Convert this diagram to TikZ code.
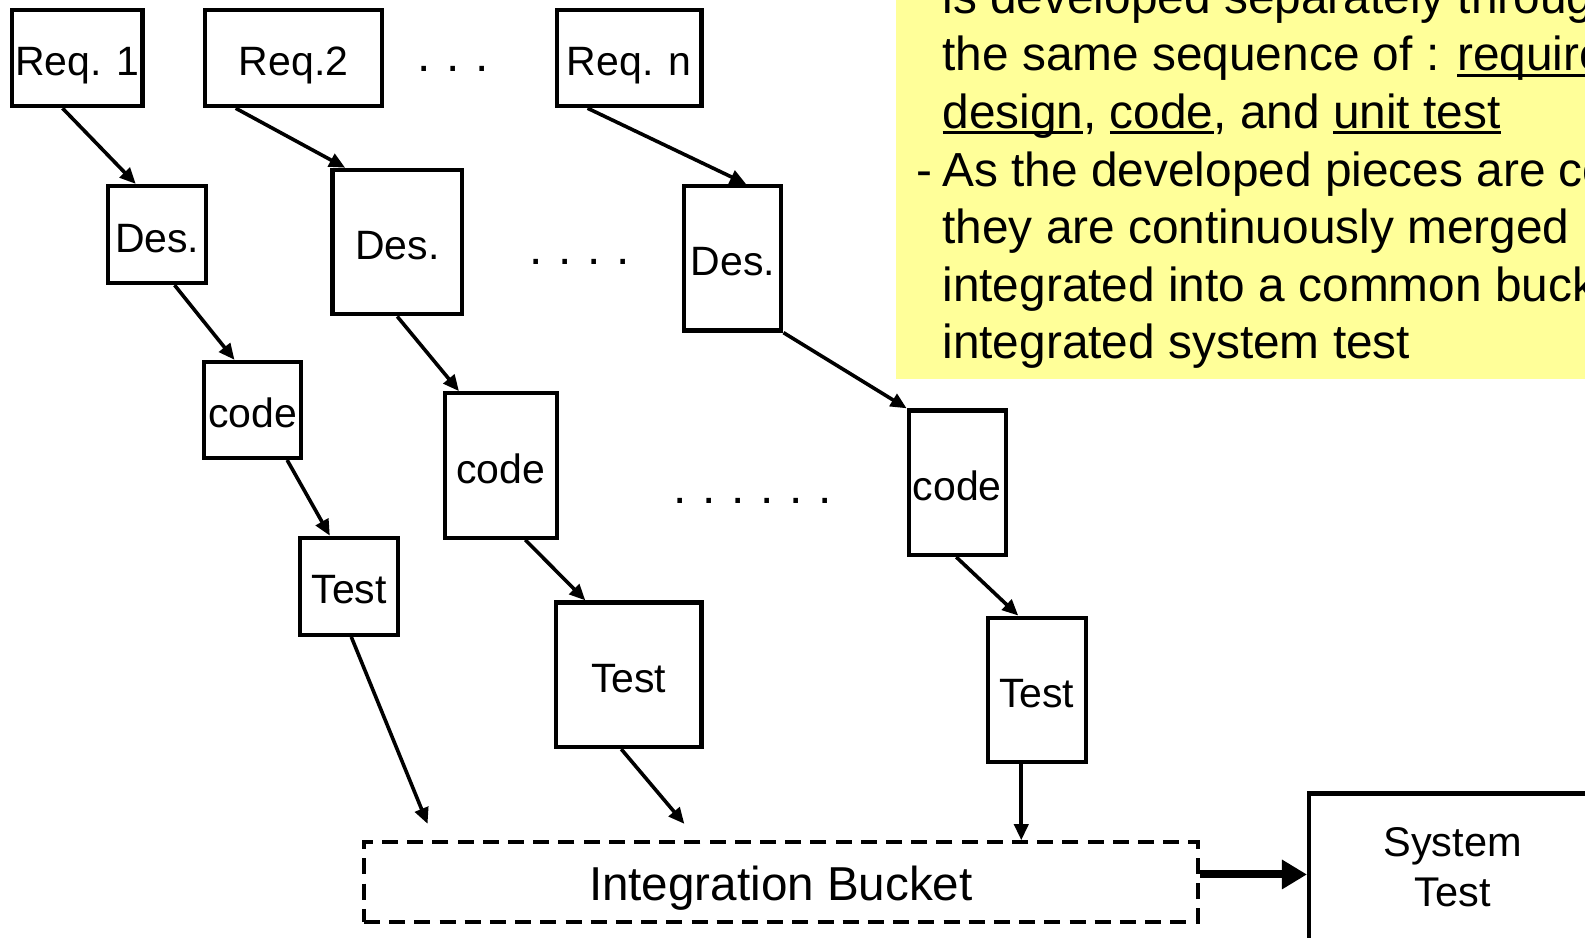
\documentclass[tikz,border=0pt]{standalone}
\usepackage{fontspec}
\setmainfont{Liberation Sans}
\usetikzlibrary{arrows.meta,calc}
\definecolor{note}{RGB}{255,255,153}
\newsavebox{\ulbox}
\newcommand{\ulx}[1]{\sbox{\ulbox}{#1}\rlap{\rule[-2.9pt]{\wd\ulbox}{1.5pt}}\usebox{\ulbox}}
\newcommand{\dd}{\makebox[14.5pt]{.}}
\begin{document}
\begin{tikzpicture}[x=0.5054pt,y=-0.5054pt,
  box/.style={draw,line width=2.1pt,inner sep=0pt,text height=17.6pt,text depth=0pt,font=\fontsize{20.5}{24}\selectfont},
  sz/.style 2 args={minimum width=#1*0.5054pt,minimum height=#2*0.5054pt},
  bucket/.style={draw,line width=1.8pt,dash pattern=on 8pt off 4.6pt,inner sep=0pt,text height=19pt,text depth=0pt,font=\fontsize{23.8}{28}\selectfont},
  arr/.style={line width=1.8pt,-{Triangle[length=8pt,width=7pt]}},
  bigarr/.style={line width=4pt,-{Triangle[length=12.5pt,width=14pt]}},
  notetext/.style={anchor=base west,inner sep=0pt,font=\fontsize{23.9}{28}\selectfont},
  dots/.style={inner sep=0pt,font=\fontsize{24}{28}\selectfont}]
\path[use as bounding box,clip] (0,0) rectangle (1568,927);
\fill[white] (0,0) rectangle (1568,927);
% note box
\fill[note] (886,-20) rectangle (1600,375);
\node[notetext] (l1) at (932,13) {is developed separately through};
\node[notetext] (l2) at (932,70) {the same sequence of : \ulx{requirements},};
\node[notetext] (l3) at (932,127) {\ulx{design}, \ulx{code}, and \ulx{unit test}};
\node[notetext] (l4d) at (906,184) {-};
\node[notetext] (l4) at (932,184) {As the developed pieces are completed,};
\node[notetext] (l5) at (932,241) {they are continuously merged};
\node[notetext] (l6) at (932,298) {integrated into a common bucket};
\node[notetext] (l7) at (932,355) {integrated system test};
% boxes
\node[box,sz={129}{95}] (r1) at (76.5,57.5) {Req. 1};
\node[box,sz={175}{95}] (r2) at (290.5,57.5) {Req.2};
\node[box,sz={143}{95}] (rn) at (622.5,57.5) {Req. n};
\node[box,sz={97}{96}] (d1) at (155.5,232) {Des.};
\node[box,sz={128}{143}] (d2) at (393,239.5) {Des.};
\node[box,sz={96}{143}] (dn) at (725,255.5) {Des.};
\node[box,sz={96}{95}] (c1) at (250,405.5) {code};
\node[box,sz={111}{143}] (c2) at (495.5,460.5) {code};
\node[box,sz={96}{143}] (cn) at (947,477.5) {code};
\node[box,sz={97}{96}] (t1) at (345.5,580) {Test};
\node[box,sz={144}{143}] (t2) at (622,667.5) {Test};
\node[box,sz={97}{143}] (tn) at (1025.5,682.5) {Test};
\node[bucket,sz={825}{79}] (bk) at (772.5,872.5) {Integration Bucket};
\node[draw,line width=2.1pt,inner sep=0pt,align=center,font=\fontsize{20.75}{25}\selectfont,sz={284}{146}] (sys) at (1437,858) {System\\Test};
% dots
\node[dots] (dot1) at (448,68) {\dd\dd\dd};
\node[dots] (dot2) at (573.5,259) {\dd\dd\dd\dd};
\node[dots] (dot3) at (745,496) {\dd\dd\dd\dd\dd\dd};
% connectors
\draw[arr] ($(r1.south west)!0.39!(r1.south east)$) -- ($(d1.north west)!0.29!(d1.north east)$);
\draw[arr] ($(r2.south west)!0.18!(r2.south east)$) -- ($(d2.north west)!0.11!(d2.north east)$);
\draw[arr] ($(rn.south west)!0.22!(rn.south east)$) -- ($(dn.north west)!0.63!(dn.north east)$);
\draw[arr] ($(d1.south west)!0.67!(d1.south east)$) -- ($(c1.north west)!0.32!(c1.north east)$);
\draw[arr] ($(d2.south west)!0.5!(d2.south east)$) -- ($(c2.north west)!0.14!(c2.north east)$);
\draw[arr] (dn.south east) -- (cn.north west);
\draw[arr] ($(c1.south west)!0.84!(c1.south east)$) -- ($(t1.north west)!0.31!(t1.north east)$);
\draw[arr] ($(c2.south west)!0.71!(c2.south east)$) -- ($(t2.north west)!0.21!(t2.north east)$);
\draw[arr] ($(cn.south west)!0.49!(cn.south east)$) -- ($(tn.north west)!0.32!(tn.north east)$);
\coordinate (e1) at (423,815);
\coordinate (e2) at (677,815);
\draw[arr] ($(t1.south west)!0.52!(t1.south east)$) -- (e1);
\draw[arr] ($(t2.south west)!0.45!(t2.south east)$) -- (e2);
\coordinate (s3) at ($(tn.south west)!0.35!(tn.south east)$);
\draw[arr] (s3) -- (s3 |- bk.north);
\coordinate (ba) at ($(bk.north east)!0.41!(bk.south east)$);
\draw[bigarr] (ba) -- (ba -| sys.west);
\end{tikzpicture}
\end{document}
